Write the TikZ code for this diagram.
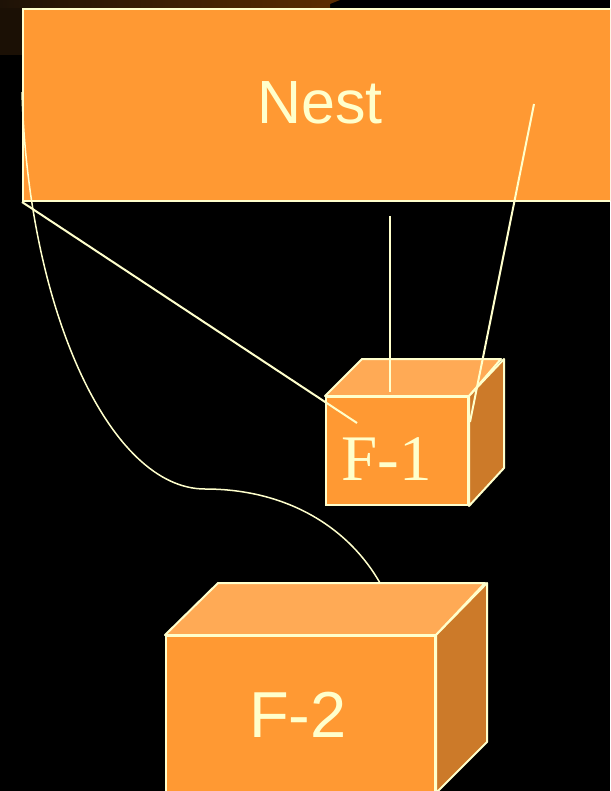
\documentclass[tikz,border=0pt]{standalone}
\usepackage{fontspec}
\setmainfont{Liberation Sans}
\newfontfamily\serifF{Liberation Serif}
\definecolor{boxfill}{HTML}{FF9933}
\definecolor{boxtop}{HTML}{FFAA55}
\definecolor{boxside}{HTML}{CC7A29}
\definecolor{edgecol}{HTML}{FFFFCC}
\definecolor{bgbrownA}{HTML}{1E1206}
\definecolor{bgbrownB}{HTML}{5A2D02}
\tikzset{
  facefront/.style={fill=boxfill, draw=edgecol, line width=2pt, inner sep=0pt, anchor=north west},
  facetop/.style={fill=boxtop, draw=edgecol, line width=2pt, line join=round},
  faceside/.style={fill=boxside, draw=edgecol, line width=2pt, line join=round},
  conn/.style={draw=edgecol, line width=2pt},
  curveconn/.style={draw=edgecol, line width=1.5pt},
  lbl/.style={text=edgecol, inner sep=0pt, anchor=base}
}
\begin{document}
\begin{tikzpicture}[x=1pt,y=-1pt]
\useasboundingbox (0,0) rectangle (610,791);
\fill[black] (0,0) rectangle (610,791);
\clip (0,0) rectangle (610,791);
% background remnants
\shade[left color=bgbrownA, right color=bgbrownB] (0,0) rectangle (330,8);
\fill[bgbrownB] (330,0) -- (340,0) -- (320,8) -- (310,8) -- cycle;
\fill[bgbrownA!90!black] (0,8) rectangle (22,55);
% Nest
\node[facefront, minimum width=620pt, minimum height=192pt] (nest) at (22,8) {};
\node[lbl, font=\fontsize{61}{64}\selectfont] (nestlabel) at (320,124) {Nest};
% F-1 box
\node[facefront, minimum width=142pt, minimum height=108pt] (f1) at (325,396) {};
\path[facetop] (f1.north west) -- ++(37,-37) -- ++(139,0) -- (f1.north east) -- cycle;
\path[faceside] (f1.north east) -- ++(35,-37) -- ++(0,109) -- (f1.south east) -- cycle;
\node[lbl, font=\serifF\fontsize{65}{68}\selectfont] (f1label) at (387,480) {F-1};
% F-2 box
\node[facefront, minimum width=269pt, minimum height=160pt] (f2) at (165,635) {};
\path[facetop] (f2.north west) -- ++(53,-52) -- ++(267,0) -- (f2.north east) -- cycle;
\path[faceside] (f2.north east) -- ++(51,-52) -- ++(0,159) -- ++(-51,51) -- cycle;
\node[lbl, font=\fontsize{65}{68}\selectfont] (f2label) at (298,737) {F-2};
% connector end points
\coordinate (a1) at (357,423);
\coordinate (v0) at (390,216);
\coordinate (v1) at (390,392);
\coordinate (r0) at (534,104);
\coordinate (r1) at (470,422);
\coordinate (c0) at (22,92);
\coordinate (cm) at (205,489);
\coordinate (c1) at (380,583);
% connectors
\draw[conn] (nest.south west) -- (a1);
\draw[conn] (v0) -- (v1);
\draw[conn] (r0) -- (r1);
\draw[curveconn] (c0) .. controls (28,310) and (110,489) .. (cm) .. controls (290,489) and (350,530) .. (c1);
\end{tikzpicture}
\end{document}
